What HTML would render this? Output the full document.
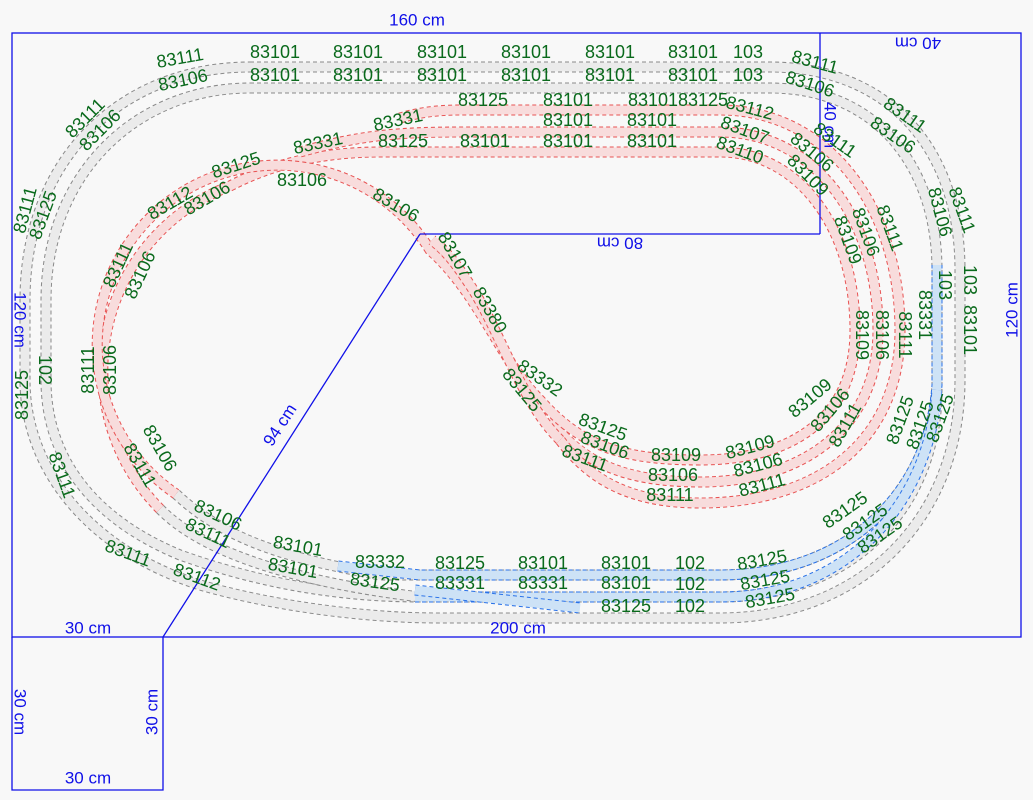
<!DOCTYPE html>
<html><head><meta charset="utf-8"><style>
html,body{margin:0;padding:0;background:#f8f8f8;}
svg{display:block;}
.t{font-family:"Liberation Sans",sans-serif;font-size:18px;fill:#0a6a1c;text-anchor:middle;dominant-baseline:central;}
.d{font-family:"Liberation Sans",sans-serif;font-size:17px;fill:#1010e8;text-anchor:middle;dominant-baseline:central;}
.ge{fill:none;stroke:#8a8a8a;stroke-width:11;stroke-dasharray:4 3;}
.gf{fill:none;stroke:#ebebeb;stroke-width:9;}
.re{fill:none;stroke:#e85454;stroke-width:11;stroke-dasharray:4 3;}
.rf{fill:none;stroke:#f8dcdc;stroke-width:9;}
.be{fill:none;stroke:#2a72e8;stroke-width:11;stroke-dasharray:4 3;}
.bf{fill:none;stroke:#cde2f6;stroke-width:9;}
</style></head><body>
<svg width="1033" height="800" viewBox="0 0 1033 800" xmlns="http://www.w3.org/2000/svg">
<rect width="1033" height="800" fill="#f8f8f8"/>
<defs>
<path id="gA" d="M250,67 L770,67 C890,67 960,150 960,270 L960,380 C960,520 860,618 720,618 L440,618 C360,618 270,605 200,585 C90,550 25,470 25,380 L25,300 C25,160 120,67 250,67 Z"/>
<path id="gB" d="M250,88 L770,88 C875,88 937,165 937,270 L937,390 C937,510 850,597 720,597 L420,597 C330,597 250,580 180,555 C95,520 46,460 46,380 L46,300 C46,175 135,88 250,88 Z"/>
<path id="gI" d="M176,494 C230,545 300,560 380,575 L720,575 C850,575 930,490 937,385"/>
<path id="gI2" d="M160,509 C210,560 320,585 420,597"/>
<path id="r1" d="M160,509 A197,197 0 0 1 230,186 C270,165 320,152 380,152 L720,152 C800,152 855,230 855,330 C855,420 790,460 700,460"/>
<path id="r2" d="M300,152 C360,135 400,132 460,132 L720,132 C815,132 878,220 878,330 C878,430 800,482 700,482 C620,482 580,460 550,420"/>
<path id="r3" d="M400,118 C420,112 440,110 460,110 L720,110 C830,110 900,210 900,330 C900,440 820,503 700,503 C630,503 590,480 560,440"/>
<path id="s1" d="M700,460 C620,460 580,445 540,400 C500,360 480,295 430,250 A180,180 0 1 0 176,494"/>
<path id="s2" d="M560,440 C520,400 500,330 470,285 C455,262 445,250 432,240"/>
<path id="b1" d="M338,566 L420,575 L720,575 C850,575 930,490 937,385 L937,265"/>
<path id="b2" d="M415,597 L720,597 C850,597 930,500 937,390"/>
<path id="b3" d="M415,590 L580,608"/>
</defs>
<g>
<use href="#gA" class="ge"/><use href="#gA" class="gf"/>
<use href="#gB" class="ge"/><use href="#gB" class="gf"/>
<use href="#gI" class="ge"/><use href="#gI" class="gf"/>
<use href="#gI2" class="ge"/><use href="#gI2" class="gf"/>
<use href="#r1" class="re"/><use href="#r1" class="rf"/>
<use href="#r2" class="re"/><use href="#r2" class="rf"/>
<use href="#r3" class="re"/><use href="#r3" class="rf"/>
<use href="#s1" class="re"/><use href="#s1" class="rf"/>
<use href="#s2" class="re"/><use href="#s2" class="rf"/>
<use href="#b1" class="be"/><use href="#b1" class="bf"/>
<use href="#b2" class="be"/><use href="#b2" class="bf"/>
<use href="#b3" class="be"/><use href="#b3" class="bf"/>
</g>
<g stroke="#1010e8" stroke-width="1.3" fill="none">
<rect x="12" y="33" width="1009" height="604"/>
<line x1="820" y1="33" x2="820" y2="234"/>
<line x1="420" y1="234" x2="820" y2="234"/>
<line x1="163" y1="637" x2="420" y2="234"/>
<polyline points="12,637 12,790 163,790 163,637"/>
</g>
<g class="d">
<text x="417" y="20">160 cm</text>
<text transform="translate(918,43) rotate(180)">40 cm</text>
<text transform="translate(830,125) rotate(90)">40 cm</text>
<text transform="translate(620,243) rotate(180)">80 cm</text>
<text transform="translate(1012,310) rotate(-90)">120 cm</text>
<text transform="translate(20,320) rotate(90)">120 cm</text>
<text transform="translate(280,425) rotate(-57)">94 cm</text>
<text x="88" y="628">30 cm</text>
<text x="518" y="628">200 cm</text>
<text transform="translate(20,712) rotate(90)">30 cm</text>
<text transform="translate(152,712) rotate(-90)">30 cm</text>
<text x="88" y="778">30 cm</text>
</g>
<g class="t">
<text transform="translate(180,58) rotate(-10)">83111</text>
<text x="275" y="52">83101</text><text x="358" y="52">83101</text><text x="442" y="52">83101</text><text x="526" y="52">83101</text><text x="610" y="52">83101</text><text x="693" y="52">83101</text><text x="748" y="52">103</text>
<text transform="translate(815,62) rotate(15)">83111</text>
<text transform="translate(183,80) rotate(-12)">83106</text>
<text x="275" y="75">83101</text><text x="358" y="75">83101</text><text x="442" y="75">83101</text><text x="526" y="75">83101</text><text x="610" y="75">83101</text><text x="693" y="75">83101</text><text x="748" y="75">103</text>
<text transform="translate(810,84) rotate(18)">83106</text>
<text x="483" y="100">83125</text><text x="568" y="100">83101</text><text x="678" y="100">8310183125</text>
<text transform="translate(750,108) rotate(15)">83112</text>
<text transform="translate(398,120) rotate(-12)">83331</text>
<text x="568" y="120">83101</text><text x="652" y="120">83101</text>
<text transform="translate(745,130) rotate(20)">83107</text>
<text x="403" y="141">83125</text><text x="485" y="141">83101</text><text x="568" y="141">83101</text><text x="652" y="141">83101</text>
<text transform="translate(740,150) rotate(20)">83110</text>
<text transform="translate(318,143) rotate(-12)">83331</text>
<text transform="translate(236,165) rotate(-18)">83125</text>
<text transform="translate(170,203) rotate(-30)">83112</text>
<text transform="translate(207,198) rotate(-30)">83106</text>
<text x="302" y="180">83106</text>
<text transform="translate(396,205) rotate(30)">83106</text>
<text transform="translate(118,265) rotate(-65)">83111</text>
<text transform="translate(140,275) rotate(-65)">83106</text>
<text transform="translate(88,370) rotate(-90)">83111</text>
<text transform="translate(110,370) rotate(-90)">83106</text>
<text transform="translate(160,448) rotate(60)">83106</text>
<text transform="translate(140,465) rotate(60)">83111</text>
<text transform="translate(218,515) rotate(25)">83106</text>
<text transform="translate(208,533) rotate(25)">83111</text>
<text transform="translate(298,546) rotate(10)">83101</text>
<text transform="translate(293,568) rotate(10)">83101</text>
<text transform="translate(128,553) rotate(20)">83111</text>
<text transform="translate(197,577) rotate(20)">83112</text>
<text transform="translate(62,475) rotate(70)">83111</text>
<text transform="translate(22,395) rotate(-90)">83125</text>
<text transform="translate(45,370) rotate(90)">102</text>
<text transform="translate(25,210) rotate(-75)">83111</text>
<text transform="translate(43,215) rotate(-70)">83125</text>
<text transform="translate(85,118) rotate(-45)">83111</text>
<text transform="translate(100,130) rotate(-45)">83106</text>
<text transform="translate(455,255) rotate(60)">83107</text>
<text transform="translate(490,310) rotate(60)">83380</text>
<text transform="translate(540,378) rotate(35)">83332</text>
<text transform="translate(522,390) rotate(50)">83125</text>
<text transform="translate(603,427) rotate(20)">83125</text>
<text transform="translate(605,445) rotate(20)">83106</text>
<text transform="translate(585,458) rotate(20)">83111</text>
<text x="676" y="455">83109</text><text x="673" y="475">83106</text><text x="670" y="495">83111</text>
<text transform="translate(750,447) rotate(-15)">83109</text>
<text transform="translate(758,465) rotate(-15)">83106</text>
<text transform="translate(762,485) rotate(-15)">83111</text>
<text transform="translate(810,398) rotate(-40)">83109</text>
<text transform="translate(830,410) rotate(-50)">83106</text>
<text transform="translate(845,425) rotate(-60)">83111</text>
<text transform="translate(862,335) rotate(90)">83109</text>
<text transform="translate(882,335) rotate(90)">83106</text>
<text transform="translate(905,335) rotate(90)">83111</text>
<text transform="translate(925,315) rotate(90)">83331</text>
<text transform="translate(848,240) rotate(70)">83109</text>
<text transform="translate(808,175) rotate(45)">83109</text>
<text transform="translate(812,152) rotate(40)">83106</text>
<text transform="translate(835,140) rotate(35)">83111</text>
<text transform="translate(866,232) rotate(70)">83106</text>
<text transform="translate(890,228) rotate(70)">83111</text>
<text transform="translate(905,115) rotate(35)">83111</text>
<text transform="translate(893,135) rotate(35)">83106</text>
<text transform="translate(962,210) rotate(70)">83111</text>
<text transform="translate(940,212) rotate(75)">83106</text>
<text transform="translate(970,280) rotate(90)">103</text>
<text transform="translate(970,330) rotate(90)">83101</text>
<text transform="translate(945,285) rotate(90)">103</text>
<text transform="translate(900,420) rotate(-70)">83125</text>
<text transform="translate(920,425) rotate(-70)">83125</text>
<text transform="translate(940,418) rotate(-70)">83125</text>
<text transform="translate(845,510) rotate(-35)">83125</text>
<text transform="translate(865,522) rotate(-35)">83125</text>
<text transform="translate(880,535) rotate(-35)">83125</text>
<text transform="translate(762,560) rotate(-10)">83125</text>
<text transform="translate(765,580) rotate(-10)">83125</text>
<text transform="translate(770,598) rotate(-10)">83125</text>
<text x="380" y="562">83332</text><text x="460" y="563">83125</text><text x="543" y="563">83101</text><text x="626" y="563">83101</text><text x="690" y="563">102</text>
<text transform="translate(375,582) rotate(8)">83125</text><text x="460" y="583">83331</text><text x="543" y="583">83331</text><text x="626" y="583">83101</text><text x="690" y="584">102</text>
<text x="626" y="606">83125</text><text x="690" y="606">102</text>
</g>
</svg>
</body></html>
